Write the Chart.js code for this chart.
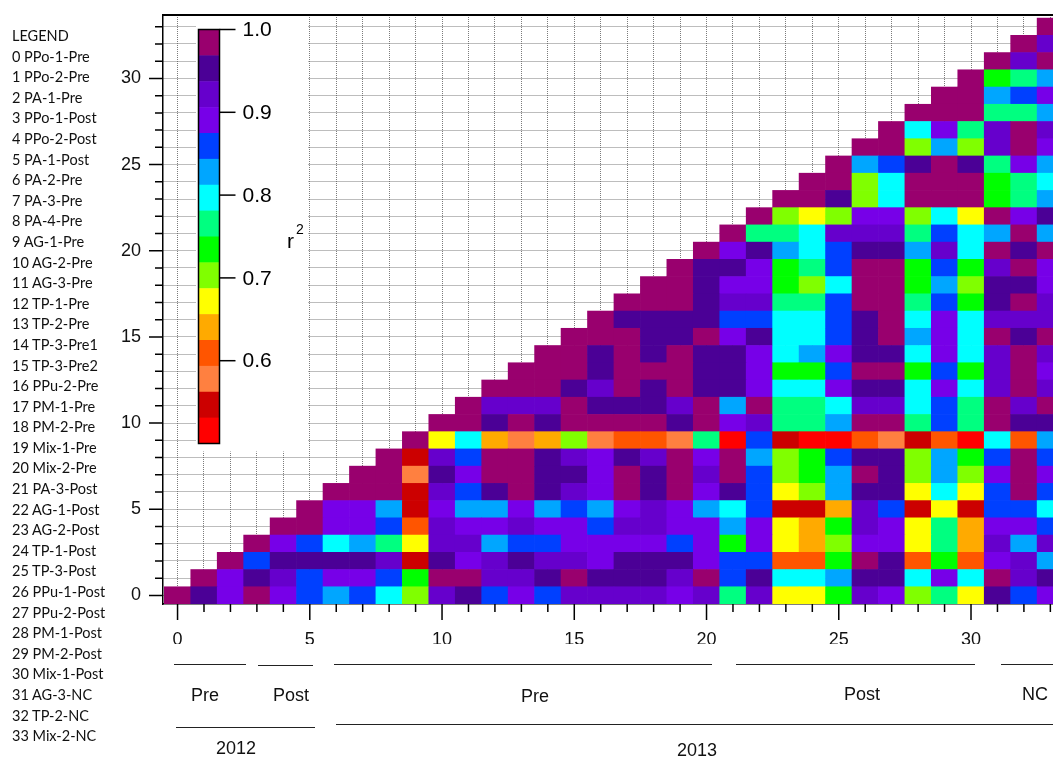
<!DOCTYPE html>
<html>
<head>
<meta charset="utf-8">
<title>r2 matrix</title>
<script src="https://cdn.jsdelivr.net/npm/chart.js@4.4.1/dist/chart.umd.min.js"></script>
<style>
    html, body { margin: 0; padding: 0; background: #fff; }
    #wrap { position: relative; width: 1053px; height: 758px; overflow: hidden; }
    #chart { position: absolute; left: 0; top: 0; }
    .legend { position: absolute; left: 12px; top: 26px; font: 14.5px Lato, 'Open Sans', sans-serif; line-height: 20.6px; color: #111; white-space: nowrap; }
    .note { position: absolute; font: 18px 'Liberation Sans', Arial, sans-serif; color: #111; transform: translate(-50%, -50%); white-space: nowrap; }
    .rule { position: absolute; height: 0; border-top: 1.5px solid #222; }
</style>
</head>
<body>
<div id="wrap">
    <canvas id="chart" width="1053" height="758"></canvas>
    <div class="legend" id="legend"></div>

    <div class="rule" style="left:174px;top:664px;width:72px"></div>
    <div class="rule" style="left:258px;top:665px;width:55px"></div>
    <div class="rule" style="left:334px;top:664px;width:378px"></div>
    <div class="rule" style="left:736px;top:664px;width:239px"></div>
    <div class="rule" style="left:1001px;top:664px;width:60px"></div>
    <div class="note" style="left:205px;top:695px">Pre</div>
    <div class="note" style="left:291px;top:695px">Post</div>
    <div class="note" style="left:535px;top:696px">Pre</div>
    <div class="note" style="left:862px;top:694px">Post</div>
    <div class="note" style="left:1035px;top:694px">NC</div>

    <div class="rule" style="left:176px;top:727px;width:139px"></div>
    <div class="rule" style="left:336px;top:724px;width:725px"></div>
    <div class="note" style="left:236px;top:748px">2012</div>
    <div class="note" style="left:697px;top:750px">2013</div>
</div>

<script>
    // sample names, index = row/column number
    const names = [
        'PPo-1-Pre', 'PPo-2-Pre', 'PA-1-Pre', 'PPo-1-Post', 'PPo-2-Post', 'PA-1-Post',
        'PA-2-Pre', 'PA-3-Pre', 'PA-4-Pre', 'AG-1-Pre', 'AG-2-Pre', 'AG-3-Pre',
        'TP-1-Pre', 'TP-2-Pre', 'TP-3-Pre1', 'TP-3-Pre2', 'PPu-2-Pre', 'PM-1-Pre',
        'PM-2-Pre', 'Mix-1-Pre', 'Mix-2-Pre', 'PA-3-Post', 'AG-1-Post', 'AG-2-Post',
        'TP-1-Post', 'TP-3-Post', 'PPu-1-Post', 'PPu-2-Post', 'PM-1-Post', 'PM-2-Post',
        'Mix-1-Post', 'AG-3-NC', 'TP-2-NC', 'Mix-2-NC'
    ];

    // r2 values, row y holds columns y..33
    const r2 = [
        [1, .95, .89, .98, .89, .86, .83, .86, .80, .70, .92, .95, .86, .89, .86, .92, .92, .92, .92, .89, .92, .77, .92, .67, .67, .73, .92, .89, .70, .77, .67, .95, .86, .89],
        [1, .89, .95, .92, .86, .89, .89, .86, .73, .98, .98, .92, .92, .95, .98, .95, .95, .95, .92, .98, .86, .95, .80, .80, .83, .95, .95, .80, .89, .80, .98, .92, .95],
        [1, .86, .95, .95, .95, .95, .92, .55, .95, .89, .92, .95, .92, .92, .89, .95, .95, .95, .89, .86, .86, .61, .61, .73, .98, .95, .61, .73, .61, .89, .92, .83],
        [1, .89, .86, .80, .83, .77, .67, .92, .92, .83, .86, .86, .89, .89, .89, .89, .86, .89, .73, .89, .67, .64, .70, .89, .89, .67, .77, .64, .92, .83, .92],
        [1, .98, .89, .89, .86, .61, .92, .89, .89, .92, .89, .89, .86, .92, .92, .89, .89, .83, .89, .67, .64, .73, .92, .89, .67, .77, .64, .89, .89, .86],
        [1, .89, .89, .83, .55, .89, .83, .83, .89, .83, .86, .83, .89, .92, .89, .83, .80, .86, .55, .55, .64, .92, .86, .55, .67, .55, .86, .86, .80],
        [1, .98, .98, .55, .92, .86, .95, .98, .95, .92, .89, .98, .95, .98, .89, .95, .86, .67, .70, .83, .95, .95, .67, .80, .67, .86, .98, .86],
        [1, .98, .58, .95, .89, .98, .98, .95, .95, .89, .98, .95, .98, .92, .98, .86, .70, .73, .83, .98, .95, .70, .83, .70, .89, .98, .89],
        [1, .55, .92, .86, .98, .98, .95, .92, .89, .95, .92, .98, .89, .98, .83, .70, .73, .86, .95, .95, .70, .83, .73, .86, .98, .86],
        [1, .67, .80, .64, .58, .64, .70, .58, .61, .61, .58, .77, .52, .86, .55, .52, .52, .61, .58, .55, .61, .52, .80, .61, .83],
        [1, .98, .95, .98, .95, .98, .98, .98, .98, .95, .98, .89, .92, .77, .77, .83, .98, .98, .77, .86, .77, .98, .95, .95],
        [1, .92, .92, .92, .98, .95, .95, .95, .92, .98, .83, .98, .77, .77, .80, .92, .92, .80, .86, .77, .98, .92, .98],
        [1, .98, .98, .95, .92, .98, .95, .98, .95, .95, .89, .80, .80, .89, .95, .95, .80, .89, .80, .92, .98, .92],
        [1, .98, .98, .95, .98, .98, .98, .95, .95, .89, .73, .73, .86, .98, .98, .73, .86, .73, .92, .98, .89],
        [1, .98, .95, .98, .95, .98, .95, .95, .89, .80, .83, .89, .95, .95, .80, .89, .80, .92, .98, .92],
        [1, .98, .98, .95, .95, .98, .89, .95, .80, .80, .86, .95, .98, .83, .89, .80, .98, .95, .98],
        [1, .95, .95, .95, .95, .86, .86, .80, .80, .86, .95, .98, .80, .89, .80, .92, .92, .92],
        [1, .98, .98, .95, .92, .92, .77, .77, .86, .98, .98, .77, .86, .73, .95, .98, .92],
        [1, .98, .95, .89, .89, .73, .70, .80, .98, .98, .73, .83, .70, .95, .95, .89],
        [1, .95, .95, .89, .73, .77, .86, .98, .98, .73, .86, .73, .92, .98, .89],
        [1, .89, .95, .83, .80, .86, .95, .95, .83, .92, .80, .98, .95, .98],
        [1, .77, .77, .80, .92, .92, .92, .77, .86, .80, .83, .98, .83],
        [1, .70, .67, .70, .89, .89, .70, .80, .67, .98, .89, .95],
        [1, .98, .95, .70, .80, .98, .98, .98, .73, .77, .83],
        [1, .98, .70, .80, .98, .98, .98, .73, .77, .80],
        [1, .83, .86, .95, .98, .95, .77, .89, .83],
        [1, .98, .70, .83, .70, .92, .98, .89],
        [1, .80, .89, .77, .92, .98, .92],
        [1, .98, .98, .77, .77, .83],
        [1, .98, .83, .86, .89],
        [1, .73, .77, .83],
        [1, .92, .98],
        [1, .92],
        [1]
    ];

    const axisTicks = Array.from({ length: 34 }, (_, i) => i);
    const scaleTicks = [1.0, 0.9, 0.8, 0.7, 0.6];

    // 16 colour steps from 1.0 down to 0.5
    const palette = [
        '#99006e', '#4b0096', '#6600cc', '#7700e8', '#0040ff', '#00a6ff', '#00ffff', '#00ff80',
        '#00ff00', '#80ff00', '#ffff00', '#ffaa00', '#ff5500', '#ff8040', '#cc0000', '#ff0000'
    ];
    const scaleMin = 0.5, scaleMax = 1.0;

    function colorFor(v) {
        const step = (scaleMax - scaleMin) / palette.length;
        let k = Math.floor((scaleMax - v) / step);
        if (k < 0) k = 0;
        if (k > palette.length - 1) k = palette.length - 1;
        return palette[k];
    }

    document.getElementById('legend').innerHTML =
        ['LEGEND'].concat(names.map((n, i) => i + ' ' + n)).join('<br>');

    const datasets = r2.map((row, y) => ({
        label: names[y],
        data: row.map((v, k) => ({ x: y + k, y: [y - 0.5, y + 0.5], r2: v })),
        backgroundColor: row.map(colorFor),
        borderWidth: 0,
        grouped: false,
        categoryPercentage: 1,
        barPercentage: 1
    }));

    const tickFont = { family: "'Liberation Sans', Arial, sans-serif", size: 18 };

    // keep the plot area exactly where the layout padding puts it
    function noLabelPadding(axis) {
        axis.paddingLeft = 0;
        axis.paddingRight = 0;
        axis.paddingTop = 0;
        axis.paddingBottom = 0;
    }

    // minor / major tick marks, top frame and the colour bar
    const decorations = {
        id: 'decorations',
        afterDraw(chart) {
            const ctx = chart.ctx;
            const area = chart.chartArea;
            const xs = chart.scales.x, ys = chart.scales.y;
            ctx.save();
            ctx.strokeStyle = '#000';
            ctx.lineWidth = 1.5;
            ctx.beginPath();
            axisTicks.forEach(v => {
                const px = xs.getPixelForValue(v);
                if (px <= area.right) {
                    ctx.moveTo(px, area.bottom);
                    ctx.lineTo(px, area.bottom + (v % 5 === 0 ? 16 : 8));
                }
                const py = ys.getPixelForValue(v);
                ctx.moveTo(area.left, py);
                ctx.lineTo(area.left - (v % 5 === 0 ? 14 : 8), py);
            });
            ctx.stroke();

            ctx.lineWidth = 2;
            ctx.beginPath();
            ctx.moveTo(area.left - 1, area.top);
            ctx.lineTo(area.right, area.top);
            ctx.stroke();

            // colour bar on a white patch
            ctx.fillStyle = '#fff';
            ctx.fillRect(196, area.top + 1.5, 112, 450 - area.top);
            const bar = { left: 198.5, right: 219.5, top: 29.5, bottom: 443.5 };
            const h = (bar.bottom - bar.top) / palette.length;
            palette.forEach((c, k) => {
                ctx.fillStyle = c;
                ctx.fillRect(bar.left, bar.top + k * h, bar.right - bar.left, h + 0.5);
            });
            ctx.lineWidth = 1.5;
            ctx.strokeRect(bar.left, bar.top, bar.right - bar.left, bar.bottom - bar.top);

            ctx.fillStyle = '#000';
            ctx.font = "21px 'Liberation Sans', Arial, sans-serif";
            ctx.textBaseline = 'middle';
            ctx.textAlign = 'left';
            scaleTicks.forEach(v => {
                const py = bar.top + (scaleMax - v) / (scaleMax - scaleMin) * (bar.bottom - bar.top);
                ctx.beginPath();
                ctx.moveTo(bar.right, py);
                ctx.lineTo(bar.right + 16, py);
                ctx.stroke();
                ctx.fillText(v.toFixed(1), bar.right + 23, py + 1);
            });
            ctx.fillText('r', 287, 242);
            ctx.font = "14px 'Liberation Sans', Arial, sans-serif";
            ctx.fillText('2', 296, 230);
            ctx.restore();
        }
    };

    const ctx = document.getElementById('chart').getContext('2d');
    const matrixChart = new Chart(ctx, {
        type: 'bar',
        data: { datasets: datasets },
        options: {
            responsive: false,
            devicePixelRatio: 1,
            animation: false,
            events: [],
            layout: { padding: { left: 113, top: 15, right: 0, bottom: 114 } },
            plugins: {
                legend: { display: false },
                tooltip: { enabled: false }
            },
            scales: {
                x: {
                    type: 'linear',
                    min: -0.55,
                    max: 33.1,
                    offset: false,
                    z: 1,
                    afterBuildTicks: axis => { axis.ticks = axisTicks.map(v => ({ value: v })); },
                    afterFit: axis => { axis.height = 40; noLabelPadding(axis); },
                    grid: { offset: false, color: 'rgba(90, 90, 90, 0.8)', lineWidth: 1, drawTicks: false },
                    border: { display: true, color: '#000', width: 1.5, dash: [1, 1] },
                    ticks: {
                        autoSkip: false,
                        maxRotation: 0,
                        padding: 25,
                        color: '#111',
                        font: tickFont,
                        callback: v => (v % 5 === 0 ? String(v) : '')
                    }
                },
                y: {
                    type: 'linear',
                    min: -0.5,
                    max: 33.68,
                    z: 1,
                    afterBuildTicks: axis => { axis.ticks = axisTicks.map(v => ({ value: v })); },
                    afterFit: axis => { axis.width = 50; noLabelPadding(axis); },
                    grid: { color: 'rgba(90, 90, 90, 0.8)', lineWidth: 1, drawTicks: false },
                    border: { display: true, color: '#000', width: 1.5, dash: [1, 1] },
                    ticks: {
                        autoSkip: false,
                        padding: 22,
                        color: '#111',
                        font: tickFont,
                        callback: v => (v % 5 === 0 && v <= 30 ? String(v) : '')
                    }
                }
            }
        },
        plugins: [decorations]
    });
</script>
</body>
</html>
